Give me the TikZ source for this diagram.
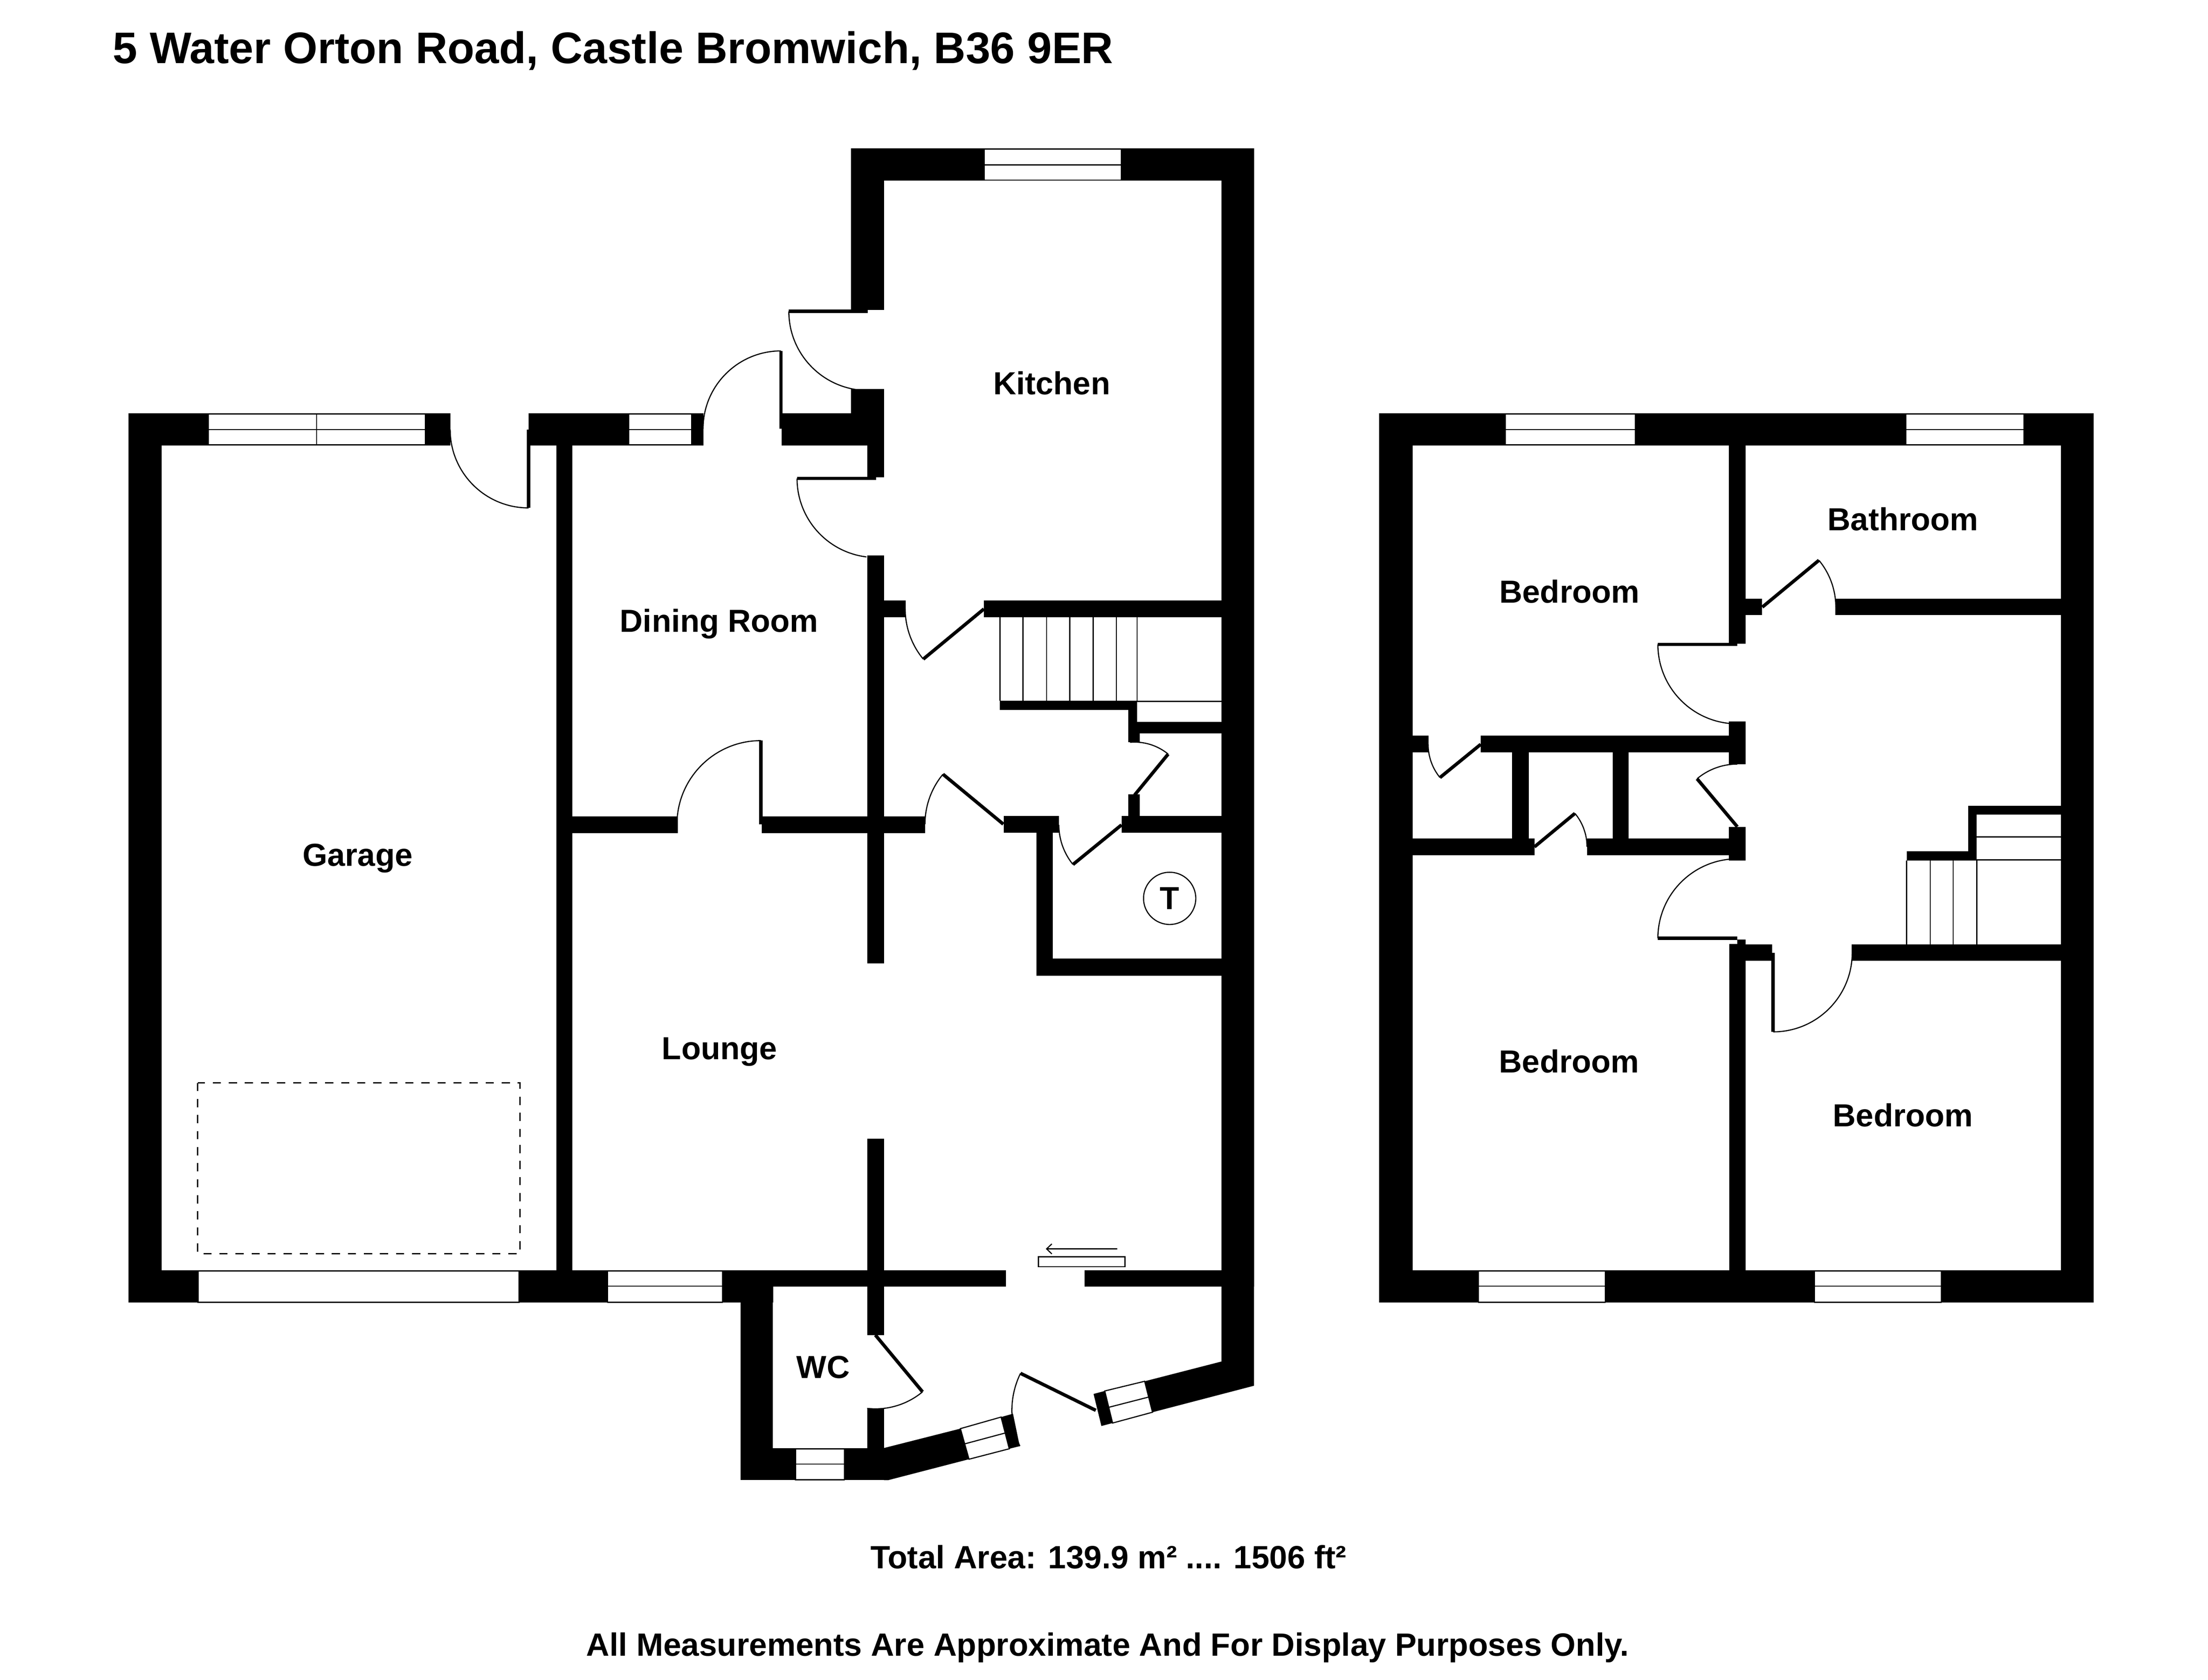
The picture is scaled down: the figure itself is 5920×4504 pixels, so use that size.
\documentclass[tikz,border=0pt]{standalone}
\usepackage{fontspec}
\setmainfont{Liberation Sans}
\usetikzlibrary{arrows.meta}

\tikzset{
    wall/.style={fill=black},
    glass/.style={draw=black, fill=white, line width=0.03cm},
    swing/.style={draw=black, line width=0.03cm},
    leaf/.style={draw=black, line width=0.09cm},
    tread/.style={draw=black, line width=0.03cm},
    roomlabel/.style={anchor=base, inner sep=0pt, font=\fontsize{24.3}{29}\selectfont\bfseries},
    titlelabel/.style={anchor=base west, inner sep=0pt, font=\fontsize{33.7}{40}\selectfont\bfseries},
    footlabel/.style={anchor=base, inner sep=0pt, font=\fontsize{24.55}{29}\selectfont\bfseries}
}

% hinge x, hinge y, radius, leaf angle, swing from, swing to
\newcommand{\door}[6]{
    \draw[leaf] (#1,#2) -- ++({#3*cos(#4)},{-#3*sin(#4)});
    \draw[swing] ({#1+#3*cos(#5)},{#2-#3*sin(#5)}) arc[start angle=#5, end angle=#6, radius=#3*0.01cm];
}

\begin{document}
\begin{tikzpicture}[x=0.01cm, y=-0.01cm]
    \useasboundingbox (0,0) rectangle (5920,4504);

    % ground floor walls
    \fill[wall] (344,1108) rectangle (1208,1195);
    \fill[wall] (344,1195) rectangle (433,3493);
    \fill[wall] (344,3406) rectangle (2073,3493);
    \fill[wall] (1492,1195) rectangle (1535,3406);
    \fill[wall] (1417,1108) rectangle (1886,1195);
    \fill[wall] (2096,1108) rectangle (2370,1195);
    \fill[wall] (2282,398) rectangle (3362,484);
    \fill[wall] (2282,484) rectangle (2370,831);
    \fill[wall] (2282,1043) rectangle (2370,1108);
    \fill[wall] (2325,1195) rectangle (2370,1280);
    \fill[wall] (3275,484) rectangle (3362,3450);
    \fill[wall] (2325,1490) rectangle (2370,2584);
    \fill[wall] (2369,1610) rectangle (2428,1655);
    \fill[wall] (2638,1610) rectangle (3275,1655);
    \fill[wall] (2680,1879) rectangle (3049,1904);
    \fill[wall] (3025,1879) rectangle (3049,1990);
    \fill[wall] (3025,1965) rectangle (3056,1990);
    \fill[wall] (3049,1936) rectangle (3275,1967);
    \fill[wall] (3025,2130) rectangle (3056,2188);
    \fill[wall] (3007,2188) rectangle (3275,2233);
    \fill[wall] (2691,2188) rectangle (2839,2233);
    \fill[wall] (2779,2233) rectangle (2823,2616);
    \fill[wall] (2779,2571) rectangle (3275,2616);
    \fill[wall] (1535,2189) rectangle (1818,2234);
    \fill[wall] (2042,2189) rectangle (2481,2234);
    \fill[wall] (2325,3054) rectangle (2370,3580);
    \fill[wall] (2325,3777) rectangle (2370,3884);
    \fill[wall] (1985,3406) rectangle (2697,3450);
    \fill[wall] (2908,3406) rectangle (3275,3450);
    \fill[wall] (1985,3450) rectangle (2072,3969);
    \fill[wall] (2072,3884) rectangle (2370,3969);
    \fill[wall] (2370,3883) -- (2575,3831) -- (2598,3913) -- (2382,3969) -- (2370,3969) -- cycle;
    \fill[wall] (2684,3800) -- (2716,3791) -- (2734,3878) -- (2706,3885) -- cycle;
    \fill[wall] (2932,3738) -- (2962,3730) -- (2983,3816) -- (2953,3824) -- cycle;
    \fill[wall] (3069,3704) -- (3275,3651) -- (3275,3440) -- (3362,3440) -- (3362,3716) -- (3090,3787) -- cycle;

    % first floor walls
    \fill[wall] (3698,1108) rectangle (5613,1195);
    \fill[wall] (3698,1195) rectangle (3787,3493);
    \fill[wall] (3698,3406) rectangle (5613,3493);
    \fill[wall] (5526,1195) rectangle (5613,3406);
    \fill[wall] (4635,1195) rectangle (4680,1726);
    \fill[wall] (4680,1605) rectangle (4724,1649);
    \fill[wall] (4921,1605) rectangle (5526,1649);
    \fill[wall] (4635,1935) rectangle (4680,2050);
    \fill[wall] (3970,1973) rectangle (4635,2018);
    \fill[wall] (3787,1973) rectangle (3830,2018);
    \fill[wall] (4054,2018) rectangle (4099,2248);
    \fill[wall] (4324,2018) rectangle (4367,2248);
    \fill[wall] (3787,2248) rectangle (4114,2293);
    \fill[wall] (4255,2248) rectangle (4635,2293);
    \fill[wall] (4635,2217) rectangle (4680,2307);
    \fill[wall] (4636,2531) rectangle (4680,3406);
    \fill[wall] (4658,2519) rectangle (4680,2531);
    \fill[wall] (4680,2533) rectangle (4751,2576);
    \fill[wall] (4964,2533) rectangle (5526,2576);
    \fill[wall] (5112,2283) rectangle (5300,2307);
    \fill[wall] (5277,2161) rectangle (5300,2307);
    \fill[wall] (5277,2161) rectangle (5526,2185);

    % windows
    \draw[glass] (558,1110) rectangle (1140,1193);
    \draw[tread] (558,1152) -- (1140,1152);
    \draw[tread] (849,1110) -- (849,1193);
    \draw[glass] (1686,1110) rectangle (1855,1193);
    \draw[tread] (1686,1152) -- (1855,1152);
    \draw[glass] (2639,400) rectangle (3006,483);
    \draw[tread] (2639,442) -- (3006,442);
    \draw[glass] (531,3408) rectangle (1392,3492);
    \draw[glass] (1629,3408) rectangle (1937,3492);
    \draw[tread] (1629,3449) -- (1937,3449);
    \draw[glass] (2133,3885) rectangle (2264,3968);
    \draw[tread] (2133,3926) -- (2264,3926);
    \draw[glass] (2575,3831) -- (2684,3800) -- (2706,3885) -- (2598,3913) -- cycle;
    \draw[tread] (2586,3872) -- (2694,3843);
    \draw[glass] (2962,3730) -- (3069,3704) -- (3090,3787) -- (2983,3816) -- cycle;
    \draw[tread] (2972,3774) -- (3081,3746);
    \draw[glass] (4036,1110) rectangle (4385,1193);
    \draw[tread] (4036,1152) -- (4385,1152);
    \draw[glass] (5110,1110) rectangle (5427,1193);
    \draw[tread] (5110,1152) -- (5427,1152);
    \draw[glass] (3964,3408) rectangle (4304,3492);
    \draw[tread] (3964,3449) -- (4304,3449);
    \draw[glass] (4865,3408) rectangle (5205,3492);
    \draw[tread] (4865,3449) -- (5205,3449);

    % ground floor doors
    \door{1417}{1152}{210}{270}{180}{270}
    \door{2094}{1150}{209}{90}{90}{180}
    \door{2327}{835}{212}{180}{180}{270}
    \door{2349}{1283}{212}{180}{180}{263}
    \door{2638}{1633}{211}{219.6}{180}{219.6}
    \door{2690}{2210}{210}{140.4}{140.4}{180}
    \door{3007}{2212}{168}{219.2}{180}{219.2}
    \door{3042}{2132}{142}{50.7}{50.7}{95}
    \door{2040}{2211}{225}{90}{90}{180}
    \door{2347}{3580}{198}{309.7}{263.6}{309.7}
    \door{2938}{3782}{225}{153.8}{153.8}{205.2}

    % first floor doors
    \door{4725}{1628}{197}{39.6}{0}{39.6}
    \door{4658}{1728}{213}{180}{180}{270}
    \door{3970}{1996}{141}{219.2}{180}{219.2}
    \door{4114}{2271}{141}{39.6}{0}{39.6}
    \door{4658}{2217}{168}{130}{90}{130}
    \door{4658}{2516}{213}{180}{90}{180}
    \door{4754}{2555}{212}{270}{270}{360}

    % stairs
    \draw[tread] (2681,1655) -- (2681,1879);
    \draw[tread] (2743,1655) -- (2743,1879);
    \draw[tread] (2806,1655) -- (2806,1879);
    \draw[tread] (2868,1655) -- (2868,1879);
    \draw[tread] (2931,1655) -- (2931,1879);
    \draw[tread] (2993,1655) -- (2993,1879);
    \draw[tread] (3049,1655) -- (3049,1879);
    \draw[tread] (3049,1881) -- (3275,1881);
    \draw[tread] (5112,2307) -- (5112,2533);
    \draw[tread] (5175,2307) -- (5175,2533);
    \draw[tread] (5237,2307) -- (5237,2533);
    \draw[tread] (5300,2307) -- (5300,2533);
    \draw[tread] (5300,2244) -- (5526,2244);
    \draw[tread] (5300,2306) -- (5526,2306);

    % garage door and sliding door
    \draw[tread, dash pattern=on 0.22cm off 0.21cm] (530,2904) rectangle (1394,3362);
    \draw[tread] (2784,3370) rectangle (3016,3397);
    \draw[tread, -{Straight Barb[length=0.14cm, width=0.27cm]}] (2995,3349) -- (2804,3349);

    % labels
    \node[titlelabel] (title) at (302,170) {5 Water Orton Road, Castle Bromwich, B36 9ER};
    \node[roomlabel] (kitchen) at (2820,1058) {Kitchen};
    \node[roomlabel] (dining) at (1928,1695) {Dining Room};
    \node[roomlabel] (garage) at (959,2322) {Garage};
    \node[roomlabel] (lounge) at (1929,2841) {Lounge};
    \node[roomlabel] (wc) at (2207,3696) {WC};
    \node[roomlabel] (bedroomA) at (4208,1617) {Bedroom};
    \node[roomlabel] (bathroom) at (5102,1423) {Bathroom};
    \node[roomlabel] (bedroomB) at (4207,2877) {Bedroom};
    \node[roomlabel] (bedroomC) at (5102,3021) {Bedroom};
    \node[draw, circle, line width=0.03cm, minimum size=1.4cm, inner sep=0pt, font=\fontsize{24.3}{29}\selectfont\bfseries] (tank) at (3136,2409) {T};
    \node[footlabel] (area) at (2972,4206) {Total Area: 139.9 m² .... 1506 ft²};
    \node[footlabel] (note) at (2970,4440) {All Measurements Are Approximate And For Display Purposes Only.};
\end{tikzpicture}
\end{document}
